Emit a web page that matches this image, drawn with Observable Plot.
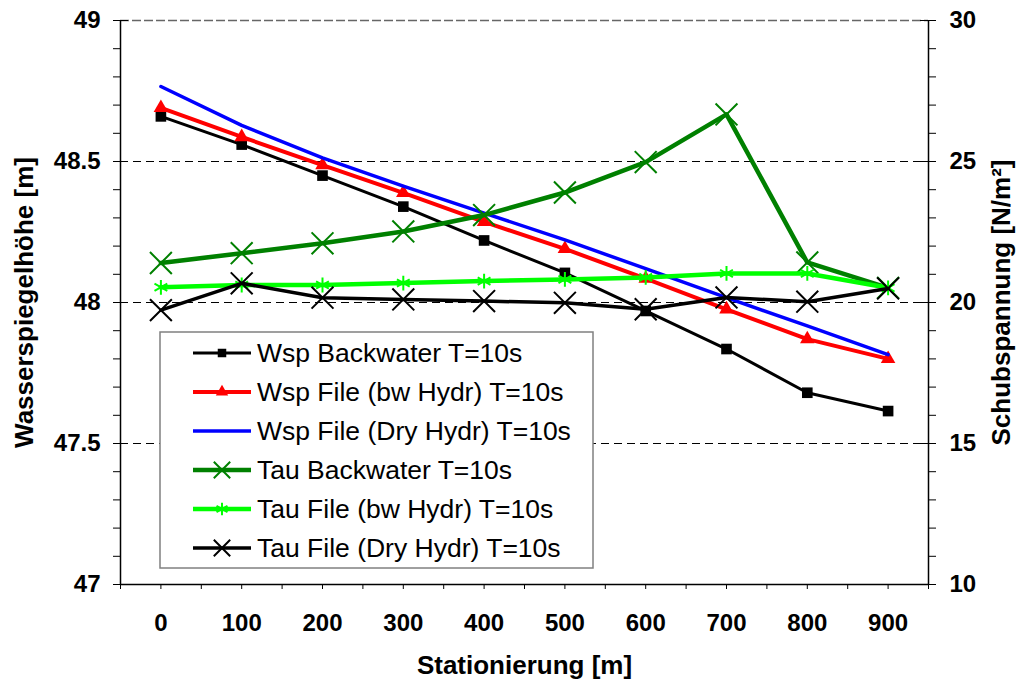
<!DOCTYPE html>
<html>
<head>
<meta charset="utf-8">
<script src="https://cdn.jsdelivr.net/npm/d3@7"></script>
<script src="https://cdn.jsdelivr.net/npm/@observablehq/plot@0.6"></script>
<style>
  html, body { margin: 0; padding: 0; background: white; }
  #chart { width: 1016px; height: 684px; }
</style>
</head>
<body>
<div id="chart"></div>
<script>
// ---- Data ----
const stations = [0, 100, 200, 300, 400, 500, 600, 700, 800, 900];
const wspBackwater = [48.66, 48.56, 48.45, 48.34, 48.22, 48.105, 47.97, 47.835, 47.68, 47.615];
const wspFileBw    = [48.69, 48.587, 48.487, 48.389, 48.286, 48.19, 48.085, 47.976, 47.87, 47.80];
const wspFileDry   = [48.766, 48.628, 48.513, 48.413, 48.317, 48.222, 48.12, 48.017, 47.917, 47.815];
const tauBackwater = [21.40, 21.75, 22.10, 22.52, 23.10, 23.90, 24.98, 26.67, 21.42, 20.52];
const tauFileBw    = [20.54, 20.62, 20.62, 20.69, 20.76, 20.82, 20.89, 21.03, 21.03, 20.52];
const tauFileDry   = [19.73, 20.68, 20.17, 20.11, 20.05, 19.99, 19.76, 20.18, 20.03, 20.50];

const seriesNames = [
  "Wsp Backwater T=10s",
  "Wsp File (bw Hydr) T=10s",
  "Wsp File (Dry Hydr) T=10s",
  "Tau Backwater T=10s",
  "Tau File (bw Hydr) T=10s",
  "Tau File (Dry Hydr) T=10s"
];
const leftTicks = [47, 47.5, 48, 48.5, 49];
const rightTicks = [10, 15, 20, 25, 30];
const xTickLabels = [0, 100, 200, 300, 400, 500, 600, 700, 800, 900];

// secondary axis (10..30) mapped onto primary (47..49)
const tauToY = t => 47 + (t - 10) / 10;
const yToTau = y => Math.round((y - 47) * 10 + 10);

const styles = [
  {values: wspBackwater, secondary: false, color: "#000000", width: 3,   symbol: "square",   r: 6.0, filled: true,  sw: 0,   lr: 4.8},
  {values: wspFileBw,    secondary: false, color: "#ff0000", width: 4,   symbol: "triangle", r: 5.4, filled: true,  sw: 0,   lr: 4.6},
  {values: wspFileDry,   secondary: false, color: "#0000ff", width: 3.5, symbol: null},
  {values: tauBackwater, secondary: true,  color: "#008000", width: 4.5, symbol: "times",    r: 10,  filled: false, sw: 2,   lr: 7.5},
  {values: tauFileBw,    secondary: true,  color: "#00ff00", width: 4.5, symbol: "asterisk", r: 7,   filled: false, sw: 2,   lr: 6},
  {values: tauFileDry,   secondary: true,  color: "#000000", width: 3.5, symbol: "times",    r: 10,  filled: false, sw: 2,   lr: 7.5}
];

const series = styles.map((s, i) => ({
  ...s,
  name: seriesNames[i],
  rows: stations.map((x, j) => ({x, y: s.secondary ? tauToY(s.values[j]) : s.values[j], name: seriesNames[i]}))
}));

const minorY = d3.range(470, 491).map(d => d / 10);
const isMajorY = d => leftTicks.some(t => Math.abs(t - d) < 1e-9);
const xTicks = d3.range(-50, 951, 50);

const marks = [
  // grid
  Plot.ruleY([47.5, 48, 48.5], {stroke: "#000", strokeWidth: 1, strokeDasharray: "8,5"}),
  Plot.ruleY([49], {stroke: "#666", strokeWidth: 1.5, strokeDasharray: "9,3"}),
  // frame lines
  Plot.ruleY([47], {stroke: "#000", strokeWidth: 1.5}),
  Plot.ruleX([-50, 950], {stroke: "#000", strokeWidth: 1.5}),
  // axes
  Plot.axisX({ticks: xTicks, tickSize: 5, tickPadding: 24, label: null, fontSize: 24, fontWeight: "bold",
    tickFormat: d => xTickLabels.includes(d) ? String(d) : ""}),
  Plot.axisY({anchor: "left", ticks: minorY, tickSize: 7, tickPadding: 13, label: null, fontSize: 24, fontWeight: "bold",
    tickFormat: d => isMajorY(d) ? String(d) : ""}),
  Plot.axisY({anchor: "right", ticks: minorY, tickSize: 7, tickPadding: 14, label: null, fontSize: 24, fontWeight: "bold",
    tickFormat: d => isMajorY(d) && rightTicks.includes(yToTau(d)) ? String(yToTau(d)) : ""}),
  // inward parts of major ticks
  Plot.tickY(leftTicks, {y: d => d, stroke: "#000", strokeWidth: 1, insetRight: 800}),
  Plot.tickY(leftTicks, {y: d => d, stroke: "#000", strokeWidth: 1, insetLeft: 800}),
  // axis titles
  Plot.text(["Wasserspiegelhöhe [m]"], {frameAnchor: "left", dx: -96, rotate: -90, text: d => d,
    fontSize: 26, fontWeight: "bold", textAnchor: "middle", lineAnchor: "middle"}),
  Plot.text(["Schubspannung [N/m²]"], {frameAnchor: "right", dx: 73, rotate: -90, text: d => d,
    fontSize: 26, fontWeight: "bold", textAnchor: "middle", lineAnchor: "middle"}),
  Plot.text(["Stationierung [m]"], {frameAnchor: "bottom", dy: 81, text: d => d,
    fontSize: 26, fontWeight: "bold", textAnchor: "middle", lineAnchor: "middle"})
];

for (const s of series) {
  marks.push(Plot.line(s.rows, {x: "x", y: "y", stroke: s.color, strokeWidth: s.width, strokeLinejoin: "round"}));
  if (s.symbol) {
    if (s.filled) {
      marks.push(Plot.dot(s.rows, {x: "x", y: "y", symbol: s.symbol, r: s.r, fill: s.color, stroke: "none"}));
    } else {
      marks.push(Plot.dot(s.rows, {x: "x", y: "y", symbol: s.symbol, r: s.r, stroke: s.color, strokeWidth: s.sw, fill: "none"}));
    }
  }
}

const chart = Plot.plot({
  width: 1016,
  height: 684,
  marginLeft: 120,
  marginRight: 88,
  marginTop: 20,
  marginBottom: 100,
  x: {domain: [-50, 950]},
  y: {domain: [47, 49]},
  style: {fontFamily: "'Liberation Sans', Arial, sans-serif", background: "white", color: "black", overflow: "visible"},
  marks
});

// ---- Legend (inside the plot area, as in the reference) ----
const svg = d3.select(chart);
const lg = svg.append("g").attr("class", "legend").attr("text-anchor", "start");
lg.append("rect")
  .attr("x", 160).attr("y", 332).attr("width", 433).attr("height", 236)
  .attr("fill", "white").attr("stroke", "#808080").attr("stroke-width", 1.5);
const symMap = {square: d3.symbolSquare, triangle: d3.symbolTriangle, times: d3.symbolTimes, asterisk: d3.symbolAsterisk};
series.forEach((s, i) => {
  const cy = 353 + i * 39;
  lg.append("line").attr("x1", 193).attr("x2", 251).attr("y1", cy).attr("y2", cy)
    .attr("stroke", s.color).attr("stroke-width", s.width);
  if (s.symbol) {
    const path = d3.symbol(symMap[s.symbol], Math.PI * s.lr * s.lr)();
    const p = lg.append("path").attr("d", path).attr("transform", `translate(222,${cy})`);
    if (s.filled) p.attr("fill", s.color);
    else p.attr("fill", "none").attr("stroke", s.color).attr("stroke-width", s.sw);
  }
  lg.append("text").attr("x", 257).attr("y", cy).attr("dy", "0.35em")
    .attr("text-anchor", "start")
    .attr("font-size", 26.5).attr("font-weight", "normal").attr("fill", "black")
    .text(s.name);
});

document.getElementById("chart").appendChild(chart);
</script>
</body>
</html>
